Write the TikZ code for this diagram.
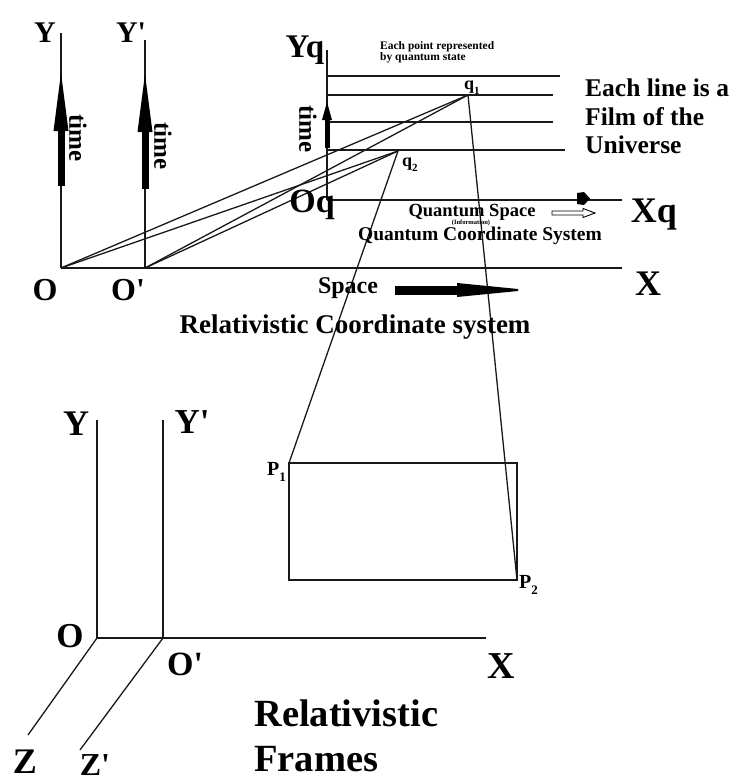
\documentclass[tikz,border=0pt]{standalone}
\usepackage{fontspec}
\usepackage{graphicx}
\setmainfont{Liberation Serif}
\newcommand\fsz[1]{\fontsize{#1}{#1}\selectfont}
\newcommand\pr{\textquotesingle}
\newcommand\subi[2]{\raisebox{-0.3em}{\fontsize{#1}{#1}\selectfont #2}}
\begin{document}
\begin{tikzpicture}[x=1pt,y=-1pt,
  ln/.style={line width=1.3pt, black!90},
  lbl/.style={inner sep=0pt, font=\bfseries, anchor=base},
  fillshape/.style={fill=black},
]
\useasboundingbox[fill=white] (0,0) rectangle (743,784);
% ---------- top: relativistic axes ----------
\coordinate (O) at (61,268);
\coordinate (Ytop) at (61,33);
\coordinate (Op) at (145,268);
\coordinate (Yptop) at (145,40);
\coordinate (Xend) at (622,268);
\coordinate (q1) at (468,95);
\coordinate (q2) at (398,151);
% ---------- quantum axes ----------
\coordinate (Oqc) at (327,200);
\coordinate (Yqtop) at (327,50);
\coordinate (Xqend) at (622,200);
\coordinate (f1a) at (327,76);  \coordinate (f1b) at (560,76);
\coordinate (f2a) at (327,95);  \coordinate (f2b) at (553,95);
\coordinate (f3a) at (327,122); \coordinate (f3b) at (553,122);
\coordinate (f4a) at (327,150); \coordinate (f4b) at (565,150);
% ---------- rectangle ----------
\coordinate (P1) at (289,463);
\coordinate (P2) at (517,580);
% ---------- bottom frames ----------
\coordinate (B) at (97,638);
\coordinate (BY) at (97,420);
\coordinate (Bp) at (163,638);
\coordinate (BYp) at (163,420);
\coordinate (BX) at (486,638);
\coordinate (BZ) at (28,735);
\coordinate (BZp) at (80,750);

% axes
\draw[ln] (O) -- (Ytop);
\draw[ln] (Op) -- (Yptop);
\draw[ln] (O) -- (Xend);
\draw[ln] (O) -- (q1);
\draw[ln] (O) -- (q2);
\draw[ln] (Op) -- (q1);
\draw[ln] (Op) -- (q2);
\draw[ln] (Oqc) -- (Yqtop);
\draw[ln] (Oqc) -- (Xqend);
\draw[ln] (f1a) -- (f1b);
\draw[ln] (f2a) -- (f2b);
\draw[ln] (f3a) -- (f3b);
\draw[ln] (f4a) -- (f4b);
\draw[ln] (q2) -- (P1);
\draw[ln] (q1) -- (P2);
\draw[ln] (P1) rectangle (P2);
\draw[ln] (B) -- (BY);
\draw[ln] (Bp) -- (BYp);
\draw[ln] (B) -- (BX);
\draw[ln] (B) -- (BZ);
\draw[ln] (Bp) -- (BZp);

% thick time arrows
\fill[fillshape] (57.5,186) rectangle (64.5,128);
\fill[fillshape] (53.5,131) -- (61,73) -- (68.5,131) -- cycle;
\fill[fillshape] (141.5,189) rectangle (148.5,128);
\fill[fillshape] (137.5,132) -- (145,74) -- (152.5,132) -- cycle;
\fill[fillshape] (324.5,148) rectangle (329.5,118);
\fill[fillshape] (322,120) -- (327,102) -- (332,120) -- cycle;
% space arrow
\fill[fillshape] (395,285.5) rectangle (458,294.5);
\fill[fillshape] (457,283) -- (518,289) -- (518,291) -- (457,297) -- cycle;
% marker on Xq axis
\fill[fillshape] (577,193) -- (584,192) -- (590,198.5) -- (584,205) -- (577,204) -- cycle;
% open arrow
\draw[line width=0.9pt] (552,211) -- (583,211) -- (583,208.5) -- (595,213) -- (583,217.5) -- (583,215) -- (552,215) -- cycle;

% labels top
\node[lbl, font=\bfseries\fsz{30}] (lY) at (45,43) {Y};
\node[lbl, font=\bfseries\fsz{30}] (lYp) at (131,43) {Y\pr};
\node[lbl, font=\bfseries\fsz{32}] (lO) at (45,300) {O};
\node[lbl, font=\bfseries\fsz{32}] (lOp) at (128,300) {O\pr};
\node[lbl, font=\bfseries\fsz{36}] (lX) at (648,295) {X};
\node[lbl, font=\bfseries\fsz{25}, rotate=-90, anchor=center] (t1) at (78,138) {time};
\node[lbl, font=\bfseries\fsz{25}, rotate=-90, anchor=center] (t2) at (163,146) {time};
\node[lbl, font=\bfseries\fsz{25}, rotate=-90, anchor=center] (t3) at (308,129) {time};
\node[lbl, font=\bfseries\fsz{33}] (lYq) at (305,58) {Yq};
\node[lbl, font=\bfseries\fsz{34}] (lOq) at (312,212) {Oq};
\node[lbl, font=\bfseries\fsz{36}] (lXq) at (654,222) {Xq};
\node[lbl, font=\bfseries\fontsize{11.5}{11}\selectfont, align=left, anchor=north west] (each) at (380,41)
  {Each point represented\\by quantum state};
\node[lbl, font=\bfseries\fsz{18}, anchor=base west] (lq1) at (464,89) {q\subi{11}{1}};
\node[lbl, font=\bfseries\fsz{18}, anchor=base west] (lq2) at (402,166) {q\subi{11}{2}};
\node[lbl, font=\bfseries\fontsize{25.5}{28.5}\selectfont, align=left, anchor=north west] (film) at (585,79)
  {Each line is a\\Film of the\\Universe};
\node[lbl, font=\bfseries\fsz{18.5}] (qs) at (472,216) {Quantum Space};
\node[lbl, font=\bfseries\fsz{6.5}] (info) at (471,224) {(Information)};
\node[lbl, font=\bfseries\fsz{19.5}] (qcs) at (480,240) {Quantum Coordinate System};
\node[lbl, font=\bfseries\fsz{24}] (sp) at (348,293) {Space};
\node[lbl, font=\bfseries\fsz{27}] (rcs) at (355,333) {Relativistic Coordinate system};
% rectangle labels
\node[lbl, font=\bfseries\fsz{20}, anchor=base west] (lP1) at (267,475) {P\subi{13}{1}};
\node[lbl, font=\bfseries\fsz{20}, anchor=base west] (lP2) at (519,588) {P\subi{13}{2}};
% bottom labels
\node[lbl, font=\bfseries\fsz{36}] (bY) at (76,435) {Y};
\node[lbl, font=\bfseries\fsz{35}] (bYp) at (192,433) {Y\pr};
\node[lbl, font=\bfseries\fsz{35}] (bO) at (70,647) {O};
\node[lbl, font=\bfseries\fsz{34}] (bOp) at (185,675) {O\pr};
\node[lbl, font=\bfseries\fsz{38}] (bX) at (501,678) {X};
\node[lbl, font=\bfseries\fsz{36}] (bZ) at (25,773) {Z};
\node[lbl, font=\bfseries\fsz{32}] (bZp) at (95,775) {Z\pr};
\node[lbl, font=\bfseries\fontsize{38.5}{45}\selectfont, align=left, anchor=north west] (rf) at (254,700)
  {Relativistic\\Frames};
\end{tikzpicture}
\end{document}
